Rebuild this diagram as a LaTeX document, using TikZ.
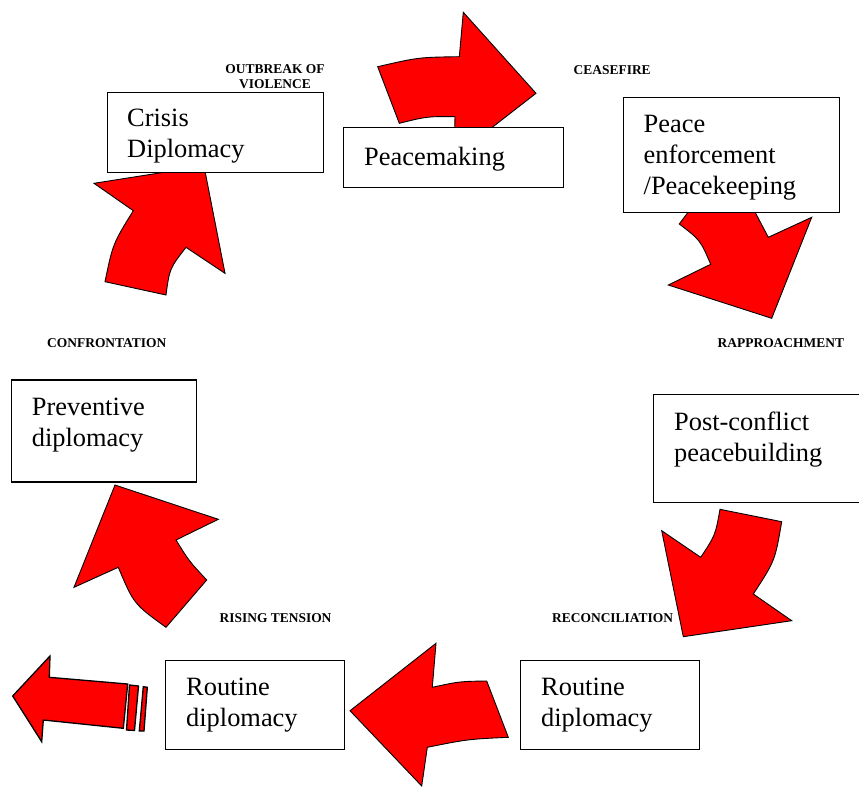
\documentclass[tikz,border=0pt]{standalone}
\usepackage{fontspec}
\setmainfont{Liberation Serif}
\usetikzlibrary{calc}
\definecolor{arrowred}{RGB}{255,0,0}
\tikzset{
  bigarrow/.style={fill=arrowred, draw=black, line width=0.9pt, line join=miter},
  flatarrow/.style={fill=arrowred, draw=black, line width=1.3pt, line join=miter},
  stagebox/.style={draw=black, fill=white, line width=1.2pt, rectangle, inner sep=0pt, anchor=north west},
  stagetext/.style={font=\fontsize{26.4}{31}\selectfont, align=left, anchor=north west, inner sep=0pt},
  phase/.style={font=\fontsize{13.45}{15.5}\selectfont\bfseries, inner sep=0pt},
}
\begin{document}
\begin{tikzpicture}[x=1pt,y=-1pt]
\useasboundingbox (0,0) rectangle (859,787);
\clip (0,0) rectangle (859,787);

% curved block arrows
\draw[bigarrow] (377.7,66.7) .. controls (418.5,57.3) .. (459.3,56.7) -- (463.3,12.3) -- (536,93.3)
  -- (454,157) -- (455,116.7) .. controls (427.2,116.4) .. (399.3,123.3) -- cycle;
\draw[bigarrow] (693.5,205) -- (679.3,224) .. controls (700.3,240.1) .. (710.7,264.3) -- (668.3,285)
  -- (771.7,318.3) -- (811.7,217.3) -- (768.3,237.3) -- (751.3,205) -- cycle;
\draw[bigarrow] (720,509.3) -- (781.7,521.7) .. controls (775,560.8) .. (753.3,594) -- (791.7,620.7)
  -- (683.3,636.7) -- (661.7,530.7) -- (700.7,557.3) .. controls (715.3,535.3) .. (720,509.3) -- cycle;
\draw[bigarrow] (350,710.7) -- (436,643.3) -- (432.3,687.3) .. controls (459.5,681.4) .. (486.7,681)
  -- (508.3,737.3) .. controls (467.8,739.2) .. (427.3,747.3) -- (421.7,786) -- cycle;
\draw[bigarrow] (115,485) -- (218.3,519.3) -- (176,540) .. controls (189,561) .. (206.7,580)
  -- (166,627.3) .. controls (133.8,604) .. (118.3,567.3) -- (74,587.3) -- cycle;
\draw[bigarrow] (94,183.3) -- (204,166) -- (225,273.3) -- (186,247.3) .. controls (169.6,268.5) .. (166,295)
  -- (105,281.7) .. controls (112.9,243.7) .. (133.3,210.7) -- cycle;

% straight striped arrow
\draw[flatarrow] (12.7,696) -- (50,656) -- (49.3,677.3) -- (127.7,684) -- (123.3,728.3)
  -- (43.3,720) -- (41.7,741.7) -- cycle;
\draw[flatarrow] (129.5,685) -- (138.5,686) -- (134.5,730.5) -- (126.5,730) -- cycle;
\draw[flatarrow] (143.3,686.7) -- (147.3,687.3) -- (144,731) -- (139.3,731) -- cycle;

% boxes
\node[stagebox, minimum width=216pt, minimum height=80pt] (crisis) at (107,92) {};
\node[stagebox, minimum width=220pt, minimum height=60pt] (making) at (343,127) {};
\node[stagebox, minimum width=216pt, minimum height=115pt] (enforce) at (623,97) {};
\node[stagebox, minimum width=220pt, minimum height=108pt] (postconf) at (653,394) {};
\node[stagebox, minimum width=185pt, minimum height=102pt] (prevent) at (10.7,379.3) {};
\node[stagebox, minimum width=179pt, minimum height=89pt] (routineL) at (165,660) {};
\node[stagebox, minimum width=179pt, minimum height=89pt] (routineR) at (520,660) {};

% box texts
\node[stagetext] (crisisT) at ([shift={(20,17)}]crisis.north west) {Crisis\\Diplomacy};
\node[stagetext] (makingT) at ([shift={(21,20)}]making.north west) {Peacemaking};
\node[stagetext] (enforceT) at ([shift={(20.5,18.5)}]enforce.north west) {Peace\\enforcement\\/Peacekeeping};
\node[stagetext] (postconfT) at ([shift={(21,18)}]postconf.north west) {Post-conflict\\peacebuilding};
\node[stagetext] (preventT) at ([shift={(21,19)}]prevent.north west) {Preventive\\diplomacy};
\node[stagetext] (routineLT) at ([shift={(21,18)}]routineL.north west) {Routine\\diplomacy};
\node[stagetext] (routineRT) at ([shift={(21,18)}]routineR.north west) {Routine\\diplomacy};

% phase labels
\node[phase, align=center, anchor=center] (outbreak) at (275,76.5) {OUTBREAK OF\\VIOLENCE};
\node[phase, anchor=base west] (ceasefire) at (573.5,74) {CEASEFIRE};
\node[phase, anchor=base west] (rapproach) at (717.5,347.5) {RAPPROACHMENT};
\node[phase, anchor=base west] (reconcil) at (552,622.5) {RECONCILIATION};
\node[phase, anchor=base west] (rising) at (219.5,622.5) {RISING TENSION};
\node[phase, anchor=base west] (confront) at (47,347.5) {CONFRONTATION};
\end{tikzpicture}
\end{document}
